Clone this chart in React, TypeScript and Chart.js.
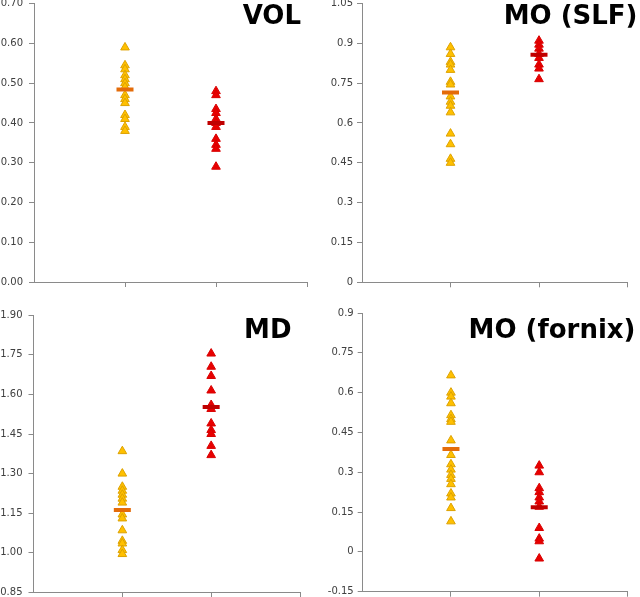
import React, { useEffect, useRef } from "react";
import { Chart, registerables } from "chart.js";

Chart.register(...registerables);

// ---- data ----
const groupX = [1, 2];
const xTickValues = [1, 2, 3];

const volControl = [0.59, 0.545, 0.535, 0.52, 0.51, 0.5, 0.49, 0.47, 0.46, 0.45, 0.42, 0.41, 0.39, 0.38];
const volPatient = [0.48, 0.47, 0.435, 0.425, 0.41, 0.4, 0.39, 0.36, 0.345, 0.335, 0.29];
const volMeans = [0.484, 0.4];
const volTicks = ["0.00", "0.10", "0.20", "0.30", "0.40", "0.50", "0.60", "0.70"];

const slfControl = [0.885, 0.86, 0.83, 0.82, 0.8, 0.755, 0.745, 0.7, 0.68, 0.665, 0.64, 0.56, 0.52, 0.465, 0.45];
const slfPatient = [0.91, 0.895, 0.88, 0.86, 0.845, 0.82, 0.805, 0.765];
const slfMeans = [0.715, 0.857];
const slfTicks = ["0", "0.15", "0.3", "0.45", "0.6", "0.75", "0.9", "1.05"];

const mdControl = [1.385, 1.3, 1.25, 1.235, 1.22, 1.205, 1.19, 1.145, 1.13, 1.085, 1.045, 1.035, 1.01, 0.995];
const mdPatient = [1.755, 1.705, 1.67, 1.615, 1.56, 1.545, 1.49, 1.465, 1.45, 1.405, 1.37];
const mdMeans = [1.162, 1.552];
const mdTicks = ["0.85", "1.00", "1.15", "1.30", "1.45", "1.60", "1.75", "1.90"];

const fornixControl = [0.665, 0.6, 0.585, 0.56, 0.515, 0.5, 0.49, 0.42, 0.365, 0.33, 0.31, 0.29, 0.275, 0.255, 0.22, 0.205, 0.165, 0.115];
const fornixPatient = [0.325, 0.3, 0.24, 0.225, 0.205, 0.19, 0.17, 0.09, 0.05, 0.04, -0.025];
const fornixMeans = [0.388, 0.168];
const fornixTicks = ["-0.15", "0", "0.15", "0.3", "0.45", "0.6", "0.75", "0.9"];

// ---- styling ----
const axisColor = "#8a8a8a";
const labelColor = "#404040";
const EXTRA = 30; // canvas overhang above/below each panel

type Panel = {
  title: string;
  control: number[];
  patient: number[];
  means: number[];
  ticks: string[];
  left: number;
  top: number;
  width: number;
  height: number;
  areaLeft: number;
  areaRight: number;
  areaTop: number;
  areaBottom: number;
  labelPad: number;
  titleX: number;
  titleY: number;
};

const panels: Panel[] = [
  {
    title: "VOL", control: volControl, patient: volPatient, means: volMeans, ticks: volTicks,
    left: 0, top: 0, width: 320, height: 297,
    areaLeft: 34, areaRight: 307, areaTop: 3.7, areaBottom: 282, labelPad: 6,
    titleX: 301, titleY: 23.5,
  },
  {
    title: "MO (SLF)", control: slfControl, patient: slfPatient, means: slfMeans, ticks: slfTicks,
    left: 320, top: 0, width: 320, height: 297,
    areaLeft: 42, areaRight: 319.3, areaTop: 3.5, areaBottom: 282.3, labelPad: 4,
    titleX: 317.5, titleY: 24,
  },
  {
    title: "MD", control: mdControl, patient: mdPatient, means: mdMeans, ticks: mdTicks,
    left: 0, top: 297, width: 320, height: 300,
    areaLeft: 33.5, areaRight: 300, areaTop: 18.3, areaBottom: 295.3, labelPad: 6,
    titleX: 291.5, titleY: 40.7,
  },
  {
    title: "MO (fornix)", control: fornixControl, patient: fornixPatient, means: fornixMeans, ticks: fornixTicks,
    left: 320, top: 297, width: 320, height: 300,
    areaLeft: 42.7, areaRight: 315, areaTop: 16, areaBottom: 294.7, labelPad: 4,
    titleX: 315.5, titleY: 41,
  },
];

function PanelChart({ p }: { p: Panel }) {
  const ref = useRef<HTMLCanvasElement>(null);
  const cw = p.width;
  const ch = p.height + 2 * EXTRA;

  useEffect(() => {
    const canvas = ref.current;
    if (!canvas) return;
    const tickVals = p.ticks.map((t) => parseFloat(t));

    const titlePlugin = {
      id: "panelTitle",
      afterDraw(chart: any) {
        const ctx = chart.ctx;
        ctx.save();
        ctx.font = 'bold 26px "DejaVu Sans"';
        ctx.fillStyle = "#000000";
        ctx.textAlign = "right";
        ctx.textBaseline = "alphabetic";
        ctx.fillText(p.title, p.titleX, p.titleY + EXTRA);
        ctx.restore();
      },
    };

    const chart = new Chart(canvas, {
      type: "scatter",
      data: {
        datasets: [
          {
            label: "control",
            data: p.control.map((v) => ({ x: groupX[0], y: v })),
            pointStyle: "triangle",
            pointRadius: 5,
            backgroundColor: "#FFC000",
            pointBackgroundColor: "#FFC000",
            borderColor: "#DDA200",
            pointBorderColor: "#DDA200",
            pointBorderWidth: 1,
            order: 2,
          },
          {
            label: "patient",
            data: p.patient.map((v) => ({ x: groupX[1], y: v })),
            pointStyle: "triangle",
            pointRadius: 5,
            backgroundColor: "#E80000",
            pointBackgroundColor: "#E80000",
            borderColor: "#D80000",
            pointBorderColor: "#D80000",
            pointBorderWidth: 1,
            order: 2,
          },
          {
            label: "mean",
            data: p.means.map((v, i) => ({ x: groupX[i], y: v })),
            pointStyle: "line",
            pointRadius: 8.5,
            borderColor: ["#E46C0A", "#C00000"],
            pointBorderColor: ["#E46C0A", "#C00000"],
            pointBorderWidth: 4,
            order: 1,
          },
        ],
      } as any,
      options: {
        responsive: false,
        animation: false,
        devicePixelRatio: 1,
        events: [],
        layout: {
          padding: {
            left: 0,
            top: p.areaTop + EXTRA,
            right: cw - p.areaRight,
            bottom: ch - (p.areaBottom + EXTRA) - 5,
          },
        },
        plugins: {
          legend: { display: false },
          tooltip: { enabled: false },
          title: { display: false },
        },
        scales: {
          x: {
            type: "linear",
            min: 0,
            max: 3,
            afterBuildTicks: (s: any) => {
              s.ticks = xTickValues.map((v) => ({ value: v }));
            },
            afterFit: (s: any) => {
              s.height = 5;
            },
            ticks: { display: false },
            grid: {
              drawOnChartArea: false,
              drawTicks: true,
              tickLength: 5,
              color: axisColor,
            },
            border: { display: true, color: axisColor, width: 1 },
          },
          y: {
            type: "linear",
            min: tickVals[0],
            max: tickVals[tickVals.length - 1],
            afterBuildTicks: (s: any) => {
              s.ticks = tickVals.map((v) => ({ value: v }));
            },
            afterFit: (s: any) => {
              s.width = p.areaLeft;
            },
            ticks: {
              autoSkip: false,
              padding: p.labelPad,
              color: labelColor,
              font: { family: '"DejaVu Sans"', size: 10 },
              callback: (_v: any, i: number) => p.ticks[i],
            },
            grid: {
              drawOnChartArea: false,
              drawTicks: true,
              tickLength: 5,
              color: axisColor,
            },
            border: { display: true, color: axisColor, width: 1 },
          },
        },
      } as any,
      plugins: [titlePlugin],
    });

    return () => chart.destroy();
  }, [p]);

  return (
    <canvas
      ref={ref}
      width={cw}
      height={ch}
      style={{
        position: "absolute",
        left: p.left,
        top: p.top - EXTRA,
        width: cw,
        height: ch,
      }}
    />
  );
}

export default function App() {
  return (
    <div
      style={{
        position: "absolute",
        left: 0,
        top: 0,
        width: 640,
        height: 597,
        background: "#ffffff",
        overflow: "hidden",
      }}
    >
      {panels.map((p) => (
        <PanelChart key={p.title} p={p} />
      ))}
    </div>
  );
}
